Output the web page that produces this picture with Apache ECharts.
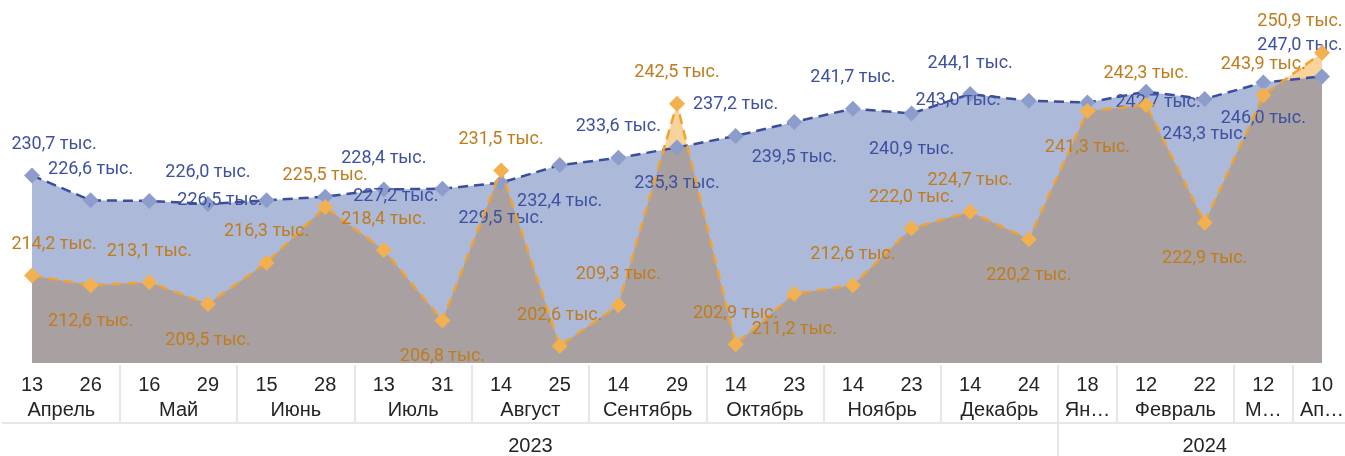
<!DOCTYPE html>
<html>
<head>
<meta charset="utf-8">
<script src="https://cdn.jsdelivr.net/npm/echarts@6/dist/echarts.min.js"></script>
<style>
  html, body { margin: 0; padding: 0; background: #ffffff; }
  #chart { width: 1345px; height: 456px; }
</style>
</head>
<body>
<div id="chart"></div>
<script>
// Dates of the measurements: day, month and year for each point
const days = ['13', '26', '16', '29', '15', '28', '13', '31', '14', '25', '14', '29',
              '14', '23', '14', '23', '14', '24', '18', '12', '22', '12', '10'];
const months = ['Апрель', 'Апрель', 'Май', 'Май', 'Июнь', 'Июнь', 'Июль', 'Июль',
                'Август', 'Август', 'Сентябрь', 'Сентябрь', 'Октябрь', 'Октябрь',
                'Ноябрь', 'Ноябрь', 'Декабрь', 'Декабрь', 'Январь', 'Февраль', 'Февраль',
                'Март', 'Апрель'];
const years = ['2023', '2023', '2023', '2023', '2023', '2023', '2023', '2023', '2023',
               '2023', '2023', '2023', '2023', '2023', '2023', '2023', '2023', '2023',
               '2024', '2024', '2024', '2024', '2024'];

// Values, thousands
const seriesBlue = [230.7, 226.6, 226.5, 226.0, 226.6, 227.2, 228.4, 228.5, 229.5, 232.4,
                    233.6, 235.3, 237.2, 239.5, 241.7, 240.9, 244.1, 243.0, 242.7, 244.5,
                    243.3, 246.0, 247.0];
const seriesOrange = [214.2, 212.6, 213.1, 209.5, 216.3, 225.5, 218.4, 206.8, 231.5, 202.6,
                      209.3, 242.5, 202.9, 211.2, 212.6, 222.0, 224.7, 220.2, 241.3, 242.3,
                      222.9, 243.9, 250.9];

// Where each value label sits relative to its marker
const blueLabelPlace = ['top', 'top', 'right', 'top', 'none', 'right', 'top', 'none',
                        'bottom', 'bottom', 'top', 'bottom', 'top', 'bottom', 'top', 'bottom',
                        'top', 'left', 'right', 'none', 'bottom', 'bottom', 'top'];
const orangeLabelPlace = ['top', 'bottom', 'top', 'bottom', 'top', 'top', 'top', 'bottom',
                          'top', 'top', 'top', 'top', 'top', 'bottom', 'top', 'top',
                          'top', 'bottom', 'bottom', 'top', 'bottom', 'top', 'top'];

const N = days.length;
const SLOTS = 2 * N + 1; // half-category grid: even = boundaries, odd = centres

function runs(keys) {
  const out = [];
  keys.forEach((k, i) => {
    const last = out[out.length - 1];
    if (last && last.key === k) last.end = i;
    else out.push({ key: k, start: i, end: i });
  });
  return out;
}

const monthRuns = runs(months.map((m, i) => years[i] + '|' + m));
const yearRuns = runs(years);

const monthWide = new Array(SLOTS).fill('');
const monthNarrow = new Array(SLOTS).fill('');
const monthEdges = new Set();
monthRuns.forEach(r => {
  const name = r.key.split('|')[1];
  const slot = r.start + r.end + 1;
  if (r.end > r.start) monthWide[slot] = name; else monthNarrow[slot] = name;
  if (r.start > 0) monthEdges.add(2 * r.start);
});
const yearSlots = new Array(SLOTS).fill('');
const yearEdges = new Set();
yearRuns.forEach(r => {
  yearSlots[r.start + r.end + 1] = r.key;
  if (r.start > 0) yearEdges.add(2 * r.start);
});
const blankSlots = new Array(SLOTS).fill('');

const fmt = v => v.toFixed(1).replace('.', ',') + ' тыс.';

function pointItems(values, places) {
  return values.map((v, i) => {
    const place = places[i];
    let label;
    if (place === 'none') {
      label = { show: false };
    } else {
      const side = place === 'left' || place === 'right';
      label = { show: true, position: place,
                distance: side ? 20 : (place === 'bottom' ? 19 : 14) };
      if (i === 0) label.offset = [22, 0];
      if (i === values.length - 1) label.offset = [-22, 0];
    }
    return { value: v, label };
  });
}

const axisFont = { fontFamily: 'Liberation Sans', fontSize: 20, color: '#252423' };
const frameColor = '#e6e6e6';

const chart = echarts.init(document.getElementById('chart'), null, { renderer: 'canvas' });
chart.setOption({
  animation: false,
  backgroundColor: '#ffffff',
  grid: { left: 2.7, right: -6.3, top: 20, bottom: 93, containLabel: false,
          outerBoundsMode: 'none' },
  xAxis: [
    { // day numbers
      type: 'category', gridIndex: 0, position: 'bottom', data: days, boundaryGap: true,
      axisLine: { show: false }, axisTick: { show: false }, splitLine: { show: false },
      axisLabel: Object.assign({ interval: 0, margin: 12 }, axisFont)
    },
    { // months spanning two points
      type: 'category', gridIndex: 0, position: 'bottom', offset: 25, data: monthWide,
      boundaryGap: false, axisLine: { show: false }, axisTick: { show: false },
      axisLabel: Object.assign({ interval: 0, margin: 12 }, axisFont)
    },
    { // months with a single point, shortened to fit their column
      type: 'category', gridIndex: 0, position: 'bottom', offset: 25, data: monthNarrow,
      boundaryGap: false, axisLine: { show: false }, axisTick: { show: false },
      axisLabel: Object.assign({ interval: 0, margin: 12, width: 47, overflow: 'truncate',
                                 ellipsis: '…' }, axisFont)
    },
    { // rule under the month row and month separators
      type: 'category', gridIndex: 0, position: 'bottom', offset: 60, data: blankSlots,
      boundaryGap: false,
      axisLine: { show: true, onZero: false, lineStyle: { color: frameColor, width: 2 } },
      axisTick: { show: true, inside: true, length: 58, interval: idx => monthEdges.has(idx),
                  lineStyle: { color: frameColor, width: 2 } },
      axisLabel: { show: false }
    },
    { // years and year separator
      type: 'category', gridIndex: 0, position: 'bottom', offset: 60, data: yearSlots,
      boundaryGap: false, axisLine: { show: false },
      axisTick: { show: true, inside: false, length: 34, interval: idx => yearEdges.has(idx),
                  lineStyle: { color: frameColor, width: 2 } },
      axisLabel: Object.assign({ interval: 0, margin: 13 }, axisFont)
    }
  ],
  yAxis: { type: 'value', min: 199.8, max: 256.3, show: false },
  series: [
    {
      name: 'orange-area', type: 'line', data: seriesOrange, z: 1, silent: true,
      symbol: 'none', lineStyle: { width: 0 },
      areaStyle: { color: '#f8d49c', opacity: 1 }
    },
    {
      name: 'blue-area', type: 'line', data: seriesBlue, z: 2, silent: true,
      symbol: 'none', lineStyle: { width: 0 },
      areaStyle: { color: 'rgba(73,100,169,0.45)', opacity: 1 }
    },
    {
      name: 'Серия 1', type: 'line', data: pointItems(seriesBlue, blueLabelPlace), z: 3,
      symbol: 'diamond', symbolSize: 16, showAllSymbol: true,
      lineStyle: { color: '#3a4d9e', width: 2.5, type: [10, 6] },
      itemStyle: { color: '#8c9dcc' },
      label: { formatter: p => fmt(p.value), fontFamily: 'Roboto', fontSize: 18,
               color: '#3d50a2' }
    },
    {
      name: 'Серия 2', type: 'line', data: pointItems(seriesOrange, orangeLabelPlace), z: 4,
      symbol: 'diamond', symbolSize: 16, showAllSymbol: true,
      lineStyle: { color: '#f2a22e', width: 2.5, type: [10, 6] },
      itemStyle: { color: '#f3b04e' },
      label: { formatter: p => fmt(p.value), fontFamily: 'Roboto', fontSize: 18,
               color: '#c07c1c' }
    }
  ]
});
</script>
</body>
</html>
